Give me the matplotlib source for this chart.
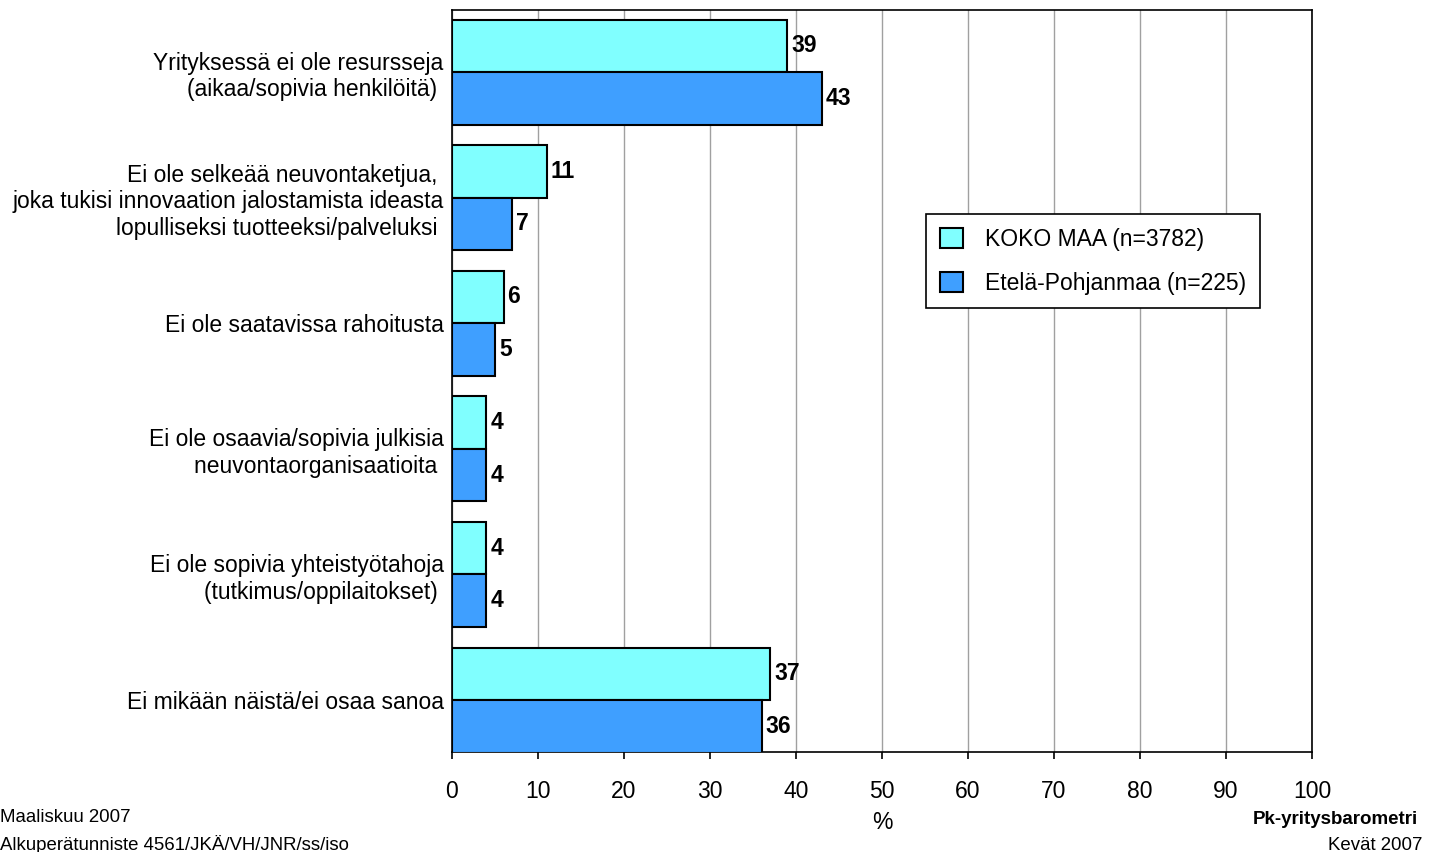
import matplotlib
matplotlib.use("Agg")
import matplotlib.pyplot as plt
import numpy as np

plt.rcParams['font.family'] = ['Liberation Sans', 'DejaVu Sans']

# Data ##########################################
categories = [
    "Yrityksessä ei ole resursseja\n(aikaa/sopivia henkilöitä) ",
    "Ei ole selkeää neuvontaketjua, \njoka tukisi innovaation jalostamista ideasta\nlopulliseksi tuotteeksi/palveluksi ",
    "Ei ole saatavissa rahoitusta",
    "Ei ole osaavia/sopivia julkisia\nneuvontaorganisaatioita ",
    "Ei ole sopivia yhteistyötahoja\n(tutkimus/oppilaitokset) ",
    "Ei mikään näistä/ei osaa sanoa",
]
koko_maa = [39, 11, 6, 4, 4, 37]
etela_pohjanmaa = [43, 7, 5, 4, 4, 36]
series_labels = ["KOKO MAA (n=3782)", "Etelä-Pohjanmaa (n=225)"]
xticks = list(range(0, 101, 10))

# Plot ##########################################
fig = plt.figure(figsize=(14.35, 8.52), dpi=100)
ax = fig.add_axes([452 / 1435, 1 - 752 / 852, 860 / 1435, 742 / 852])

y = np.arange(len(categories))
h = 0.418
colors = ['#80FFFF', '#3F9FFF']
fs = 16.5

b1 = ax.barh(y - h / 2, koko_maa, height=h, color=colors[0], edgecolor='black',
             linewidth=1.5, label=series_labels[0], zorder=3)
b2 = ax.barh(y + h / 2, etela_pohjanmaa, height=h, color=colors[1], edgecolor='black',
             linewidth=1.5, label=series_labels[1], zorder=3)

for bars, vals in ((b1, koko_maa), (b2, etela_pohjanmaa)):
    for bar, v in zip(bars, vals):
        ax.text(v + 0.45, bar.get_y() + bar.get_height() / 2, str(v),
                va='center', ha='left', fontsize=fs, fontweight='bold', zorder=4)

ax.set_xlim(0, 100)
ax.set_ylim(5.414, -0.494)
ax.set_xticks(xticks)
ax.set_xticklabels([str(t) for t in xticks], fontsize=fs)
ax.set_yticks(y)
ax.set_yticklabels(categories, fontsize=fs)
for lbl in ax.get_yticklabels():
    lbl.set_linespacing(1.2)
ax.tick_params(axis='y', length=0, pad=6)
ax.tick_params(axis='x', length=5, width=1.2, pad=15)
ax.xaxis.grid(True, color='#a0a0a0', linewidth=1)
ax.set_axisbelow(True)
for s in ax.spines.values():
    s.set_linewidth(1.2)
    s.set_color('black')

ax.set_xlabel('%', fontsize=fs, labelpad=6)

leg = ax.legend(loc='upper left', bbox_to_anchor=(0.551, 0.725), fontsize=fs,
                frameon=True, fancybox=False, edgecolor='black', framealpha=1,
                handlelength=1.0, handleheight=1.0, borderpad=0.6,
                labelspacing=0.9, handletextpad=1.0, borderaxespad=0)
leg.get_frame().set_linewidth(1.2)

# Footer texts
fig.text(0.0, 1 - 818 / 852, 'Maaliskuu 2007', fontsize=13.4, va='center', ha='left')
fig.text(0.0, 1 - 845 / 852, 'Alkuperätunniste 4561/JKÄ/VH/JNR/ss/iso', fontsize=13.4,
         va='center', ha='left')
fig.text(1418 / 1435, 1 - 820 / 852, 'Pk-yritysbarometri', fontsize=13.5,
         fontweight='bold', va='center', ha='right')
fig.text(1422 / 1435, 1 - 845 / 852, 'Kevät 2007', fontsize=13.4, va='center', ha='right')

fig.savefig('out.png', dpi=100)
